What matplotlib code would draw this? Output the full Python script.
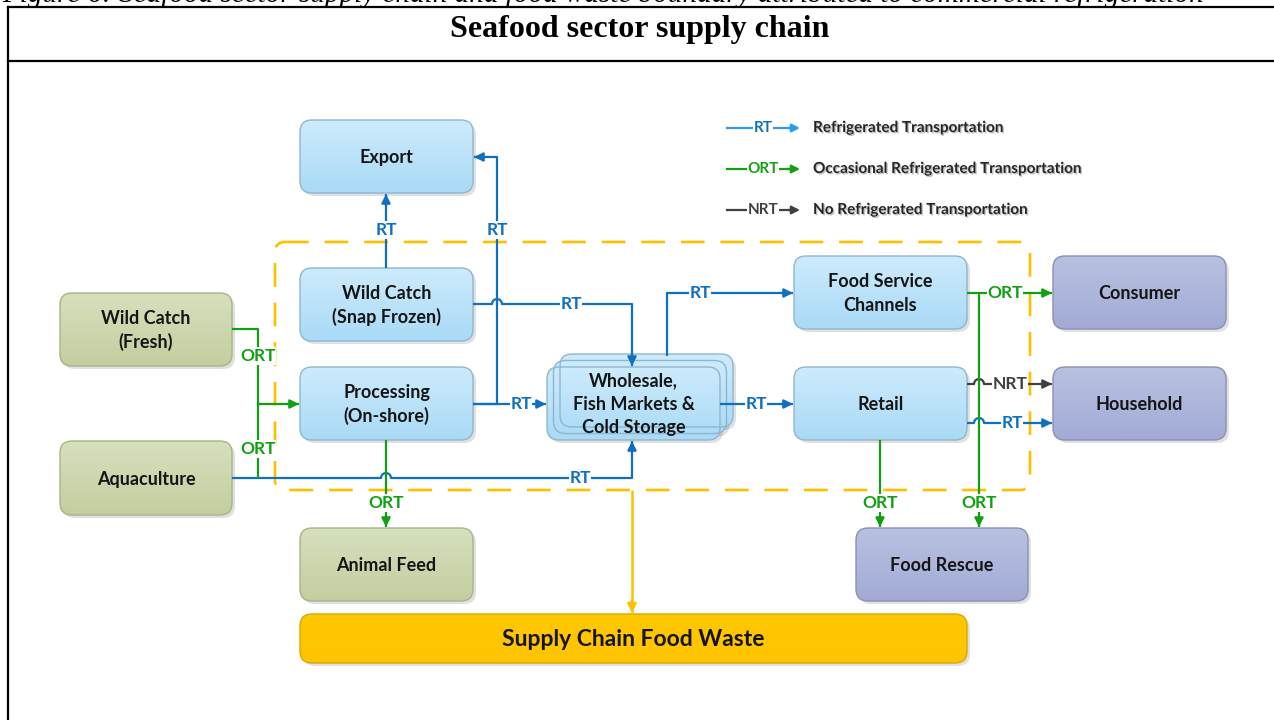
import numpy as np
import matplotlib.pyplot as plt
from matplotlib.patches import FancyBboxPatch
import matplotlib.patheffects as pe

# node labels and kinds
node_names = ["Export", "Wild Catch\n(Snap Frozen)", "Processing\n(On-shore)",
              "Wild Catch\n(Fresh)", "Aquaculture", "Wholesale,\nFish Markets &\nCold Storage",
              "Food Service\nChannels", "Retail", "Consumer", "Household",
              "Animal Feed", "Food Rescue", "Supply Chain Food Waste"]
node_kind = ["blue", "blue", "blue", "green", "green", "blue", "blue", "blue",
             "purple", "purple", "green", "purple", "yellow"]

legend_codes = ["RT", "ORT", "NRT"]
legend_texts = ["Refrigerated Transportation", "Occasional Refrigerated Transportation",
                "No Refrigerated Transportation"]

title = "Seafood sector supply chain"
caption = ("Figure 6: Seafood sector supply chain and food waste boundary "
           "attributed to commercial refrigeration")

# layout in pixels (x0, y0, x1, y1), y measured from the top
layout = {
    "Export": (300, 120, 473, 193),
    "Wild Catch\n(Snap Frozen)": (300, 268, 473, 341),
    "Processing\n(On-shore)": (300, 367, 473, 440),
    "Wild Catch\n(Fresh)": (60, 293, 232, 366),
    "Aquaculture": (60, 441, 232, 515),
    "Wholesale,\nFish Markets &\nCold Storage": (547, 367, 720, 440),
    "Food Service\nChannels": (794, 256, 967, 329),
    "Retail": (794, 367, 967, 440),
    "Consumer": (1053, 256, 1226, 329),
    "Household": (1053, 367, 1226, 440),
    "Animal Feed": (300, 528, 473, 601),
    "Food Rescue": (856, 528, 1028, 601),
    "Supply Chain Food Waste": (300, 614, 967, 663),
}

palette = {
    "blue": ("#cdebfc", "#a9daf6", "#8fb6cf"),
    "green": ("#d6e0bd", "#c3cea0", "#a8b38a"),
    "purple": ("#b9c1e2", "#a2abd5", "#8990b5"),
    "yellow": ("#ffc800", "#ffc400", "#d9a800"),
}

BLUE = "#0f6fc0"
GREEN = "#12a012"
GRAY = "#404040"
ORANGE = "#ffc000"
FONT = "Lato"

fig = plt.figure(figsize=(12.74, 7.2), dpi=100)
ax = fig.add_axes([0, 0, 1, 1])


def draw_box(x0, y0, x1, y1, kind, text, fs=13):
    top, bot, edge = palette[kind]
    w, h = x1 - x0, y1 - y0
    sh = FancyBboxPatch((x0 + 3, y0 + 3), w, h, boxstyle="round,pad=0,rounding_size=12",
                        fc="#000000", ec="none", alpha=0.12, zorder=2)
    ax.add_patch(sh)
    p = FancyBboxPatch((x0, y0), w, h, boxstyle="round,pad=0,rounding_size=12",
                       fc="none", ec=edge, lw=1.0, zorder=4)
    ax.add_patch(p)
    c0 = np.array(plt.matplotlib.colors.to_rgb(top))
    c1 = np.array(plt.matplotlib.colors.to_rgb(bot))
    t = np.linspace(0, 1, 64)[:, None, None]
    grad = c0 * (1 - t) + c1 * t
    im = ax.imshow(grad, extent=(x0, x1, y1, y0), origin="upper", aspect="auto", zorder=3)
    im.set_clip_path(p)
    if text:
        ax.text((x0 + x1) / 2, (y0 + y1) / 2 + 1, text, ha="center", va="center",
                fontsize=fs, fontweight="bold", family=FONT, color="#151515",
                linespacing=1.45, zorder=5)


def expand(pts, hops, r=5):
    out = [pts[0]]
    for (xa, ya), (xb, yb) in zip(pts[:-1], pts[1:]):
        if ya == yb:
            hs = sorted([hx for hx in hops if min(xa, xb) < hx < max(xa, xb)],
                        reverse=xb < xa)
            for hx in hs:
                ang = np.linspace(np.pi, 0, 9) if xb > xa else np.linspace(0, np.pi, 9)
                for a in ang:
                    out.append((hx + r * np.cos(a), ya - r * np.sin(a)))
        out.append((xb, yb))
    return out


def link(pts, color, labels=(), code="", hops=(), arrow=True, lw=1.6):
    pp = expand(pts, hops)
    xs, ys = zip(*pp)
    ax.plot(xs, ys, color=color, lw=lw, solid_capstyle="butt", zorder=6)
    if arrow:
        (xa, ya), (xb, yb) = pts[-2], pts[-1]
        d = np.hypot(xb - xa, yb - ya)
        xs0 = xb - (xb - xa) / d * 12
        ys0 = yb - (yb - ya) / d * 12
        ax.annotate("", xy=(xb, yb), xytext=(xs0, ys0),
                    arrowprops=dict(arrowstyle="-|>", color=color, lw=lw,
                                    mutation_scale=13, shrinkA=0, shrinkB=0), zorder=7)
    for lx, ly in labels:
        ax.text(lx, ly, code, ha="center", va="center", fontsize=12.5, fontweight="bold",
                family=FONT, color=color, zorder=8,
                bbox=dict(fc="white", ec="none", pad=0.5))


# frame and headings
ax.plot([8, 1274], [7, 7], color="black", lw=1.6, zorder=1)
ax.plot([8, 1274], [61, 61], color="black", lw=1.6, zorder=1)
ax.plot([8, 8], [7, 720], color="black", lw=1.6, zorder=1)
ax.text(640, 30, title, ha="center", va="center", fontsize=23, fontweight="bold",
        family="Liberation Serif")
ax.text(2, 2, caption, ha="left", va="baseline", fontsize=21, style="italic",
        family="Liberation Serif", clip_on=True)

# boundary of refrigerated supply chain
ax.add_patch(FancyBboxPatch((275, 242), 755, 248, boxstyle="round,pad=0,rounding_size=10",
                            fc="none", ec=ORANGE, lw=1.9, ls=(0, (9, 6)), zorder=1))

# stacked cards behind wholesale
ws = layout[node_names[5]]
for off in (13, 6.5):
    draw_box(ws[0] + off, ws[1] - off, ws[2] + off, ws[3] - off, "blue", "")

for name, kind in zip(node_names, node_kind):
    fs = 16.5 if kind == "yellow" else 13
    draw_box(*layout[name], kind, name, fs=fs)

# refrigerated links
link([(386, 268), (386, 194)], BLUE, [(386, 230)], "RT")
link([(473, 404), (497, 404), (497, 157), (474, 157)], BLUE, [(497, 230)], "RT")
link([(473, 404), (546, 404)], BLUE, [(521, 404)], "RT")
link([(473, 304), (632, 304), (632, 366)], BLUE, [(571, 304)], "RT", hops=[497])
link([(667, 356), (667, 293), (793, 293)], BLUE, [(700, 293)], "RT")
link([(720, 404), (793, 404)], BLUE, [(756, 404)], "RT")
link([(232, 478), (632, 478), (632, 441)], BLUE, [(580, 478)], "RT", hops=[386])
link([(967, 423), (1052, 423)], BLUE, [(1012, 423)], "RT", hops=[979])

# no refrigeration
link([(967, 384), (1052, 384)], GRAY, [(1010, 384)], "NRT", hops=[979])

# occasional refrigeration
link([(232, 329), (258, 329), (258, 478)], GREEN, [(258, 356), (258, 449)], "ORT", arrow=False)
link([(258, 404), (299, 404)], GREEN)
link([(386, 440), (386, 527)], GREEN, [(386, 503)], "ORT")
link([(967, 293), (1052, 293)], GREEN, [(1005, 293)], "ORT")
link([(979, 293), (979, 527)], GREEN, [(979, 503)], "ORT")
link([(880, 440), (880, 527)], GREEN, [(880, 503)], "ORT")

# waste
link([(632, 490), (632, 613)], ORANGE, lw=1.8)

# legend
leg_colors = ["#2f9bf0", GREEN, GRAY]
leg_text_colors = [BLUE, GREEN, GRAY]
for i, (code, txt) in enumerate(zip(legend_codes, legend_texts)):
    y = 128 + 41 * i
    ax.plot([727, 790], [y, y], color=leg_colors[i], lw=1.6, zorder=6)
    ax.annotate("", xy=(800, y), xytext=(788, y),
                arrowprops=dict(arrowstyle="-|>", color=leg_colors[i], lw=1.6,
                                mutation_scale=12, shrinkA=0, shrinkB=0))
    ax.text(763, y, code, ha="center", va="center", fontsize=11, fontweight="bold",
            family=FONT, color=leg_text_colors[i], zorder=8,
            bbox=dict(fc="white", ec="none", pad=0.5))
    ax.text(813, y, txt, ha="left", va="center", fontsize=11, fontweight="bold",
            family=FONT, color="#262626",
            path_effects=[pe.withSimplePatchShadow(offset=(1, -1), alpha=0.25)])

ax.set_xlim(0, 1274)
ax.set_ylim(720, 0)
ax.axis("off")
fig.savefig("out.png", dpi=100)
